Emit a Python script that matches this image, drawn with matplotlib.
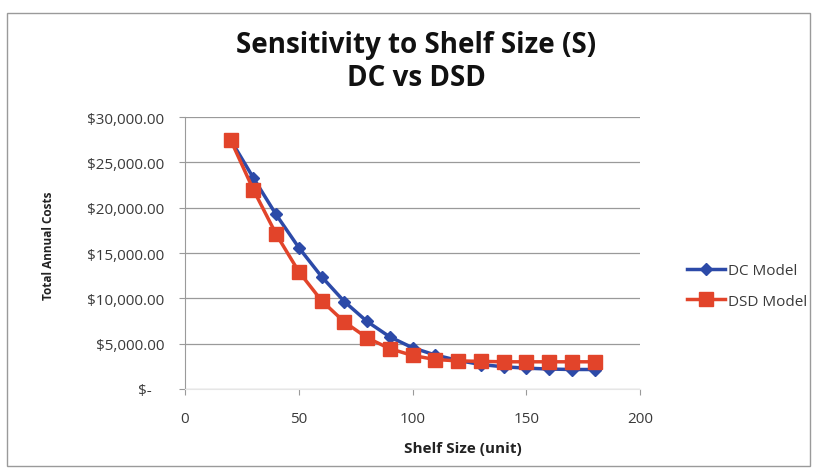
import matplotlib as mpl
import matplotlib.pyplot as plt
from matplotlib.patches import Rectangle

mpl.use('agg')

plt.rcParams['font.family'] = ['Open Sans', 'DejaVu Sans']

shelf_size = [20, 30, 40, 50, 60, 70, 80, 90, 100, 110, 120, 130, 140, 150, 160, 170, 180]
dc_model = [27500, 23300, 19250, 15600, 12400, 9650, 7450, 5750, 4550, 3750, 3150,
            2700, 2450, 2300, 2200, 2150, 2150]
dsd_model = [27500, 22000, 17100, 12950, 9750, 7400, 5650, 4450, 3700, 3250, 3100,
             3050, 3000, 3000, 3000, 3000, 3000]

y_ticks = [0, 5000, 10000, 15000, 20000, 25000, 30000]
y_labels = ['$-   ', '$5,000.00', '$10,000.00', '$15,000.00', '$20,000.00',
            '$25,000.00', '$30,000.00']
x_ticks = [0, 50, 100, 150, 200]

blue = '#2c4aa8'
red = '#e2442a'
text_col = '#3a3a3a'

fig = plt.figure(figsize=(8.18, 4.77), dpi=100)
ax = fig.add_axes([0.2262, 0.1824, 0.5562, 0.5702])

# chart border
fig.patches.append(Rectangle((0.008, 0.02), 0.982, 0.95, transform=fig.transFigure,
                             fill=False, edgecolor='#9a9a9a', linewidth=1.0))

ax.plot(shelf_size, dc_model, color=blue, linewidth=2.5, marker='D', markersize=6.5,
        markerfacecolor=blue, markeredgecolor=blue, label='DC Model', zorder=3)
ax.plot(shelf_size, dsd_model, color=red, linewidth=2.5, marker='s', markersize=9.5,
        markerfacecolor=red, markeredgecolor=red, label='DSD Model', zorder=4)

ax.set_xlim(0, 200)
ax.set_ylim(0, 30000)
ax.set_yticks(y_ticks)
ax.set_yticklabels(y_labels)
ax.set_xticks(x_ticks)
ax.grid(axis='y', color='#9a9a9a', linewidth=0.9)
ax.set_axisbelow(True)

for s in ['top', 'right']:
    ax.spines[s].set_visible(False)
ax.spines['left'].set_color('#9a9a9a')
ax.spines['bottom'].set_color('#e6e6e6')
ax.tick_params(axis='y', direction='out', length=4, color='#9a9a9a', labelsize=11,
               labelcolor=text_col, pad=11)
ax.tick_params(axis='x', direction='out', length=4, color='#9a9a9a', labelsize=11,
               labelcolor=text_col, pad=12)

ax.set_xlabel('Shelf Size (unit)', fontsize=11, fontweight='bold', color='#222222')
ax.set_ylabel('Total Annual Costs', fontsize=8.5, fontweight='bold', color='#222222')
ax.xaxis.set_label_coords(0.611, -0.217)
ax.yaxis.set_label_coords(-0.299, 0.53)
ax.xaxis.label.set_va('center')
ax.yaxis.label.set_va('center')

fig.text(0.5086, 0.905, 'Sensitivity to Shelf Size (S)', ha='center', va='center',
         fontsize=20, fontweight='bold', color='#111111')
fig.text(0.5086, 0.836, 'DC vs DSD', ha='center', va='center',
         fontsize=20, fontweight='bold', color='#111111')

ax.legend(loc='center left', bbox_to_anchor=(1.073, 0.379), frameon=False, fontsize=11,
          handlelength=2.5, handletextpad=0.2, labelspacing=1.0, labelcolor=text_col)

fig.savefig('out.png', dpi=100)
